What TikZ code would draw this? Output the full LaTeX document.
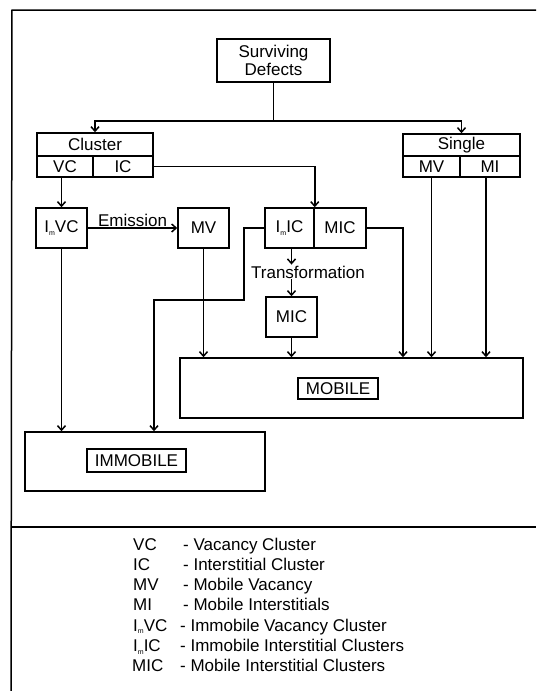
\documentclass[tikz,border=0pt]{standalone}
\usepackage{fontspec}
\setmainfont{Liberation Sans}
\usetikzlibrary{arrows.meta}
\newcommand{\imsub}{I\raisebox{-2.5pt}{\fontsize{7}{7}\selectfont m}}
\begin{document}
\begin{tikzpicture}[x=1pt,y=-1pt,
  every node/.style={font=\fontsize{17}{18}\selectfont},
  box/.style={draw, line width=1.5pt, inner sep=0pt, align=center},
  conn/.style={line width=1.5pt},
  arr/.style={conn, -{Straight Barb[length=4.5pt,width=8pt,line width=1.5pt]}},
  lbl/.style={inner sep=1pt},
  leg/.style={anchor=base west, inner sep=0pt}]
\useasboundingbox (0,0) rectangle (536,691);
% frame
\coordinate (ftl) at (12,10);
\coordinate (ftr) at (536,10);
\coordinate (fbl) at (11,691);
\coordinate (sl) at (11,527);
\coordinate (sr) at (536,527);
\draw[conn] (ftr) -- (ftl) -- (fbl);
\draw[conn] (sl) -- (sr);
% nodes
\node[box, minimum width=113pt, minimum height=43pt] (surv) at (273.5,60.5) {Surviving\\Defects};
\node[box, minimum width=116pt, minimum height=23pt] (clT) at (95,144.5) {Cluster};
\node[box, minimum width=56pt, minimum height=21pt] (vc) at (65,166.5) {VC};
\node[box, minimum width=60pt, minimum height=21pt] (ic) at (123,166.5) {IC};
\node[box, minimum width=117pt, minimum height=22pt] (sgT) at (461.5,145) {Single};
\node[box, minimum width=57pt, minimum height=21pt] (smv) at (431.5,166.5) {MV};
\node[box, minimum width=60pt, minimum height=21pt] (smi) at (490,166.5) {MI};
\node[box, minimum width=51pt, minimum height=40pt] (imvc) at (61.5,228) {\imsub VC};
\node[box, minimum width=51pt, minimum height=40pt] (mv) at (203.5,228) {MV};
\node[box, minimum width=49pt, minimum height=40pt] (imic) at (289.5,228) {\imsub IC};
\node[box, minimum width=52pt, minimum height=40pt] (mic1) at (340,228) {MIC};
\node[box, minimum width=51pt, minimum height=40pt] (mic2) at (291.5,317) {MIC};
\node[box, minimum width=343pt, minimum height=60pt] (mobile) at (351.5,388) {};
\node[box, minimum width=80pt, minimum height=21pt] (mobl) at (338,388.5) {MOBILE};
\node[box, minimum width=240pt, minimum height=59pt] (immobile) at (145,461.5) {};
\node[box, minimum width=99pt, minimum height=23pt] (imml) at (136.5,460.5) {IMMOBILE};
\node[lbl] (trans) at (308,272) {Transformation};
% connectors
\coordinate (j) at (273.5,121);
\draw[conn] (surv.south) -- (j);
\draw[arr] (j) -| (clT.north);
\draw[arr] (j) -| (sgT.north);
\draw[arr] (imvc.north |- vc.south) -- (imvc.north);
\draw[arr] (ic.east) -| (imic.north east);
\draw[arr] (imvc.east) -- node[above, lbl, pos=0.5] (emis) {Emission} (mv.west);
\draw[arr] (imvc.south) -- (imvc.south |- immobile.north);
\draw[arr] (mv.south) -- (mv.south |- mobile.north);
\draw[arr] (mic2.north |- imic.south) -- (mic2.north |- trans.north);
\draw[arr] (mic2.north |- trans.south) -- (mic2.north);
\draw[arr] (mic2.south) -- (mic2.south |- mobile.north);
\coordinate (b1) at (244,300);
\coordinate (b2) at (154,300);
\draw[arr] (imic.west) -| (b1) -- (b2) -- (b2 |- immobile.north);
\coordinate (c1) at (403,228);
\draw[arr] (mic1.east) -- (c1) -- (c1 |- mobile.north);
\draw[arr] (smv.south) -- (smv.south |- mobile.north);
\draw[arr] (smi.south) ++(-4,0) coordinate (smix) -- (smix |- mobile.north);
% legend
\node[leg] (a1) at (133,550) {VC};
\node[leg] (d1) at (183,550) {- Vacancy Cluster};
\node[leg] (a2) at (133,570.3) {IC};
\node[leg] (d2) at (183,570.3) {- Interstitial Cluster};
\node[leg] (a3) at (133,590.6) {MV};
\node[leg] (d3) at (183,590.6) {- Mobile Vacancy};
\node[leg] (a4) at (133,610.9) {MI};
\node[leg] (d4) at (183,610.9) {- Mobile Interstitials};
\node[leg] (a5) at (133,631.2) {\imsub VC};
\node[leg] (d5) at (180,631.2) {- Immobile Vacancy Cluster};
\node[leg] (a6) at (133,651.5) {\imsub IC};
\node[leg] (d6) at (180,651.5) {- Immobile Interstitial Clusters};
\node[leg] (a7) at (132,671.8) {MIC};
\node[leg] (d7) at (180,671.8) {- Mobile Interstitial Clusters};
\end{tikzpicture}
\end{document}
